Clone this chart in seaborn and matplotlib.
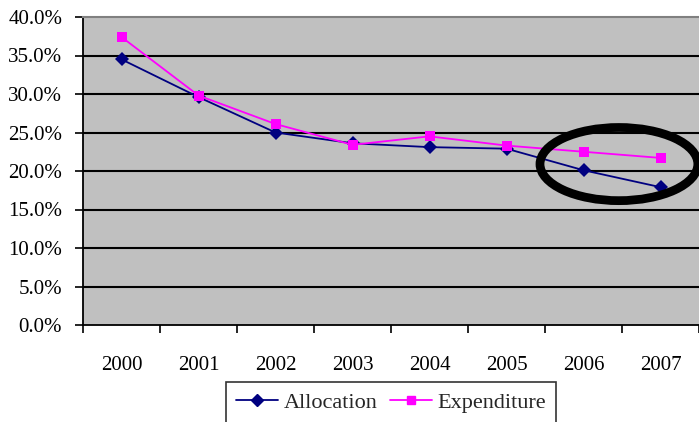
import matplotlib
matplotlib.use("Agg")
import matplotlib.pyplot as plt
from matplotlib.patches import Ellipse
from matplotlib.ticker import FixedLocator, FuncFormatter
import seaborn as sns
import pandas as pd

years = ["2000", "2001", "2002", "2003", "2004", "2005", "2006", "2007"]
allocation = [34.5, 29.6, 25.0, 23.6, 23.1, 22.9, 20.1, 17.9]
expenditure = [37.4, 29.8, 26.1, 23.4, 24.5, 23.3, 22.5, 21.7]

df = pd.DataFrame({
    "year": years * 2,
    "pos": list(range(len(years))) * 2,
    "value": allocation + expenditure,
    "series": ["Allocation"] * len(years) + ["Expenditure"] * len(years),
})

sns.set_theme(style="white")
plt.rcParams["font.family"] = ["Liberation Serif", "DejaVu Serif"]

fig = plt.figure(figsize=(6.99, 4.22), dpi=100)
ax = fig.add_axes([83 / 699, 1 - 325 / 422, 1 - 83 / 699, (325 - 17) / 422])
ax.set_facecolor("#C0C0C0")

palette = {"Allocation": "#000080", "Expenditure": "#FF00FF"}
markers = {"Allocation": "D", "Expenditure": "s"}
sns.lineplot(data=df, x="pos", y="value", hue="series", style="series",
             palette=palette, markers=markers, dashes=False,
             markersize=7, markeredgewidth=0, linewidth=1.3,
             ax=ax, legend=False, zorder=3)

ax.set_xlim(-0.5, len(years) - 0.5)
ax.set_ylim(0, 40)

# horizontal gridlines
for v in range(5, 40, 5):
    ax.axhline(v, color="black", linewidth=1.5, zorder=1)

ax.yaxis.set_major_locator(FixedLocator(list(range(0, 41, 5))))
ax.yaxis.set_major_formatter(FuncFormatter(lambda v, p: f"{v:.1f}%"))
ax.xaxis.set_major_locator(FixedLocator(list(range(len(years)))))
ax.set_xticklabels(years)
ax.xaxis.set_minor_locator(FixedLocator([i - 0.5 for i in range(len(years) + 1)]))

ax.tick_params(axis="y", which="major", left=True, length=6, width=1.2,
               color="black", labelsize=15, pad=9, direction="out")
ax.tick_params(axis="x", which="major", bottom=False, labelsize=15, pad=16)
ax.tick_params(axis="x", which="minor", bottom=True, length=6, width=1.2,
               color="black", direction="out")
for lbl in ax.get_xticklabels() + ax.get_yticklabels():
    lbl.set_color("black")

ax.set_xlabel("")
ax.set_ylabel("")

for side in ("left", "bottom"):
    ax.spines[side].set_color("black")
    ax.spines[side].set_linewidth(1.3)
ax.spines["top"].set_color("#808080")
ax.spines["top"].set_linewidth(1.5)
ax.spines["right"].set_visible(False)

# emphasis ring around the last two years
ring = Ellipse((6.46, 20.9), width=2.05, height=9.5, fill=False,
               edgecolor="black", linewidth=6.3, clip_on=False, zorder=5)
ax.add_patch(ring)

handles = [
    plt.Line2D([], [], color="#000080", marker="D", markersize=6, linewidth=1.3),
    plt.Line2D([], [], color="#FF00FF", marker="s", markersize=6, linewidth=1.3),
]
leg = fig.legend(handles, ["Allocation", "Expenditure"], loc="upper left",
                 bbox_to_anchor=(226 / 699, 1 - 382 / 422), ncol=2,
                 frameon=True, fancybox=False, fontsize=16,
                 handlelength=1.9, handletextpad=0.25, columnspacing=0.55,
                 borderpad=0.45, borderaxespad=0)
leg.get_frame().set_edgecolor("black")
leg.get_frame().set_linewidth(1.2)

fig.savefig("out.png", dpi=100)
